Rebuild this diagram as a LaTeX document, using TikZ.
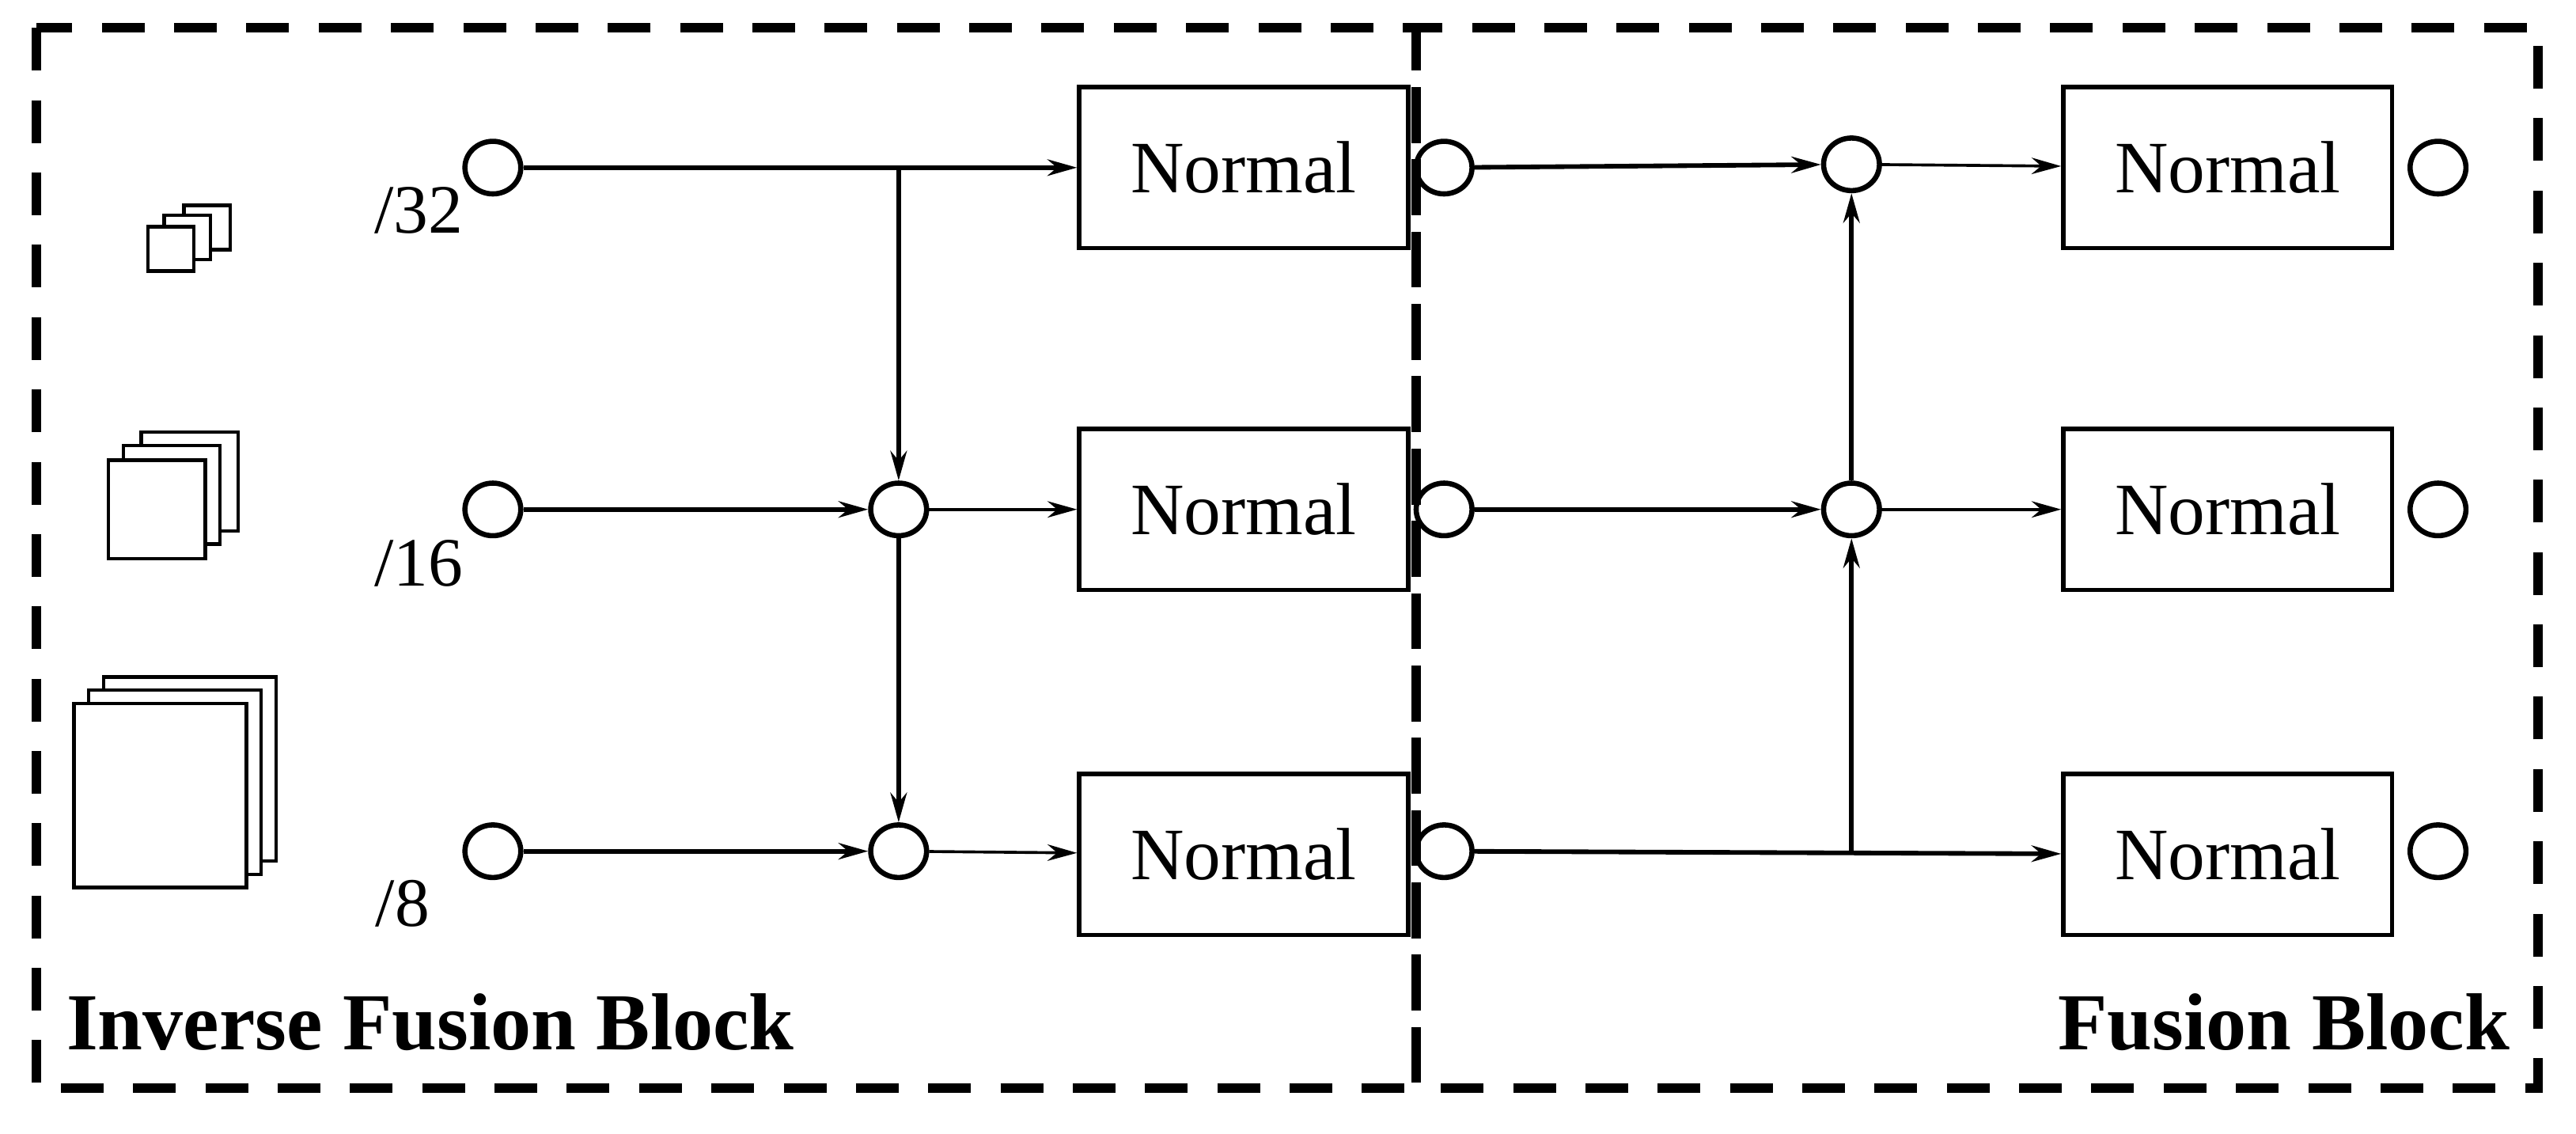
\documentclass[tikz,border=0pt]{standalone}
\usepackage{fontspec}
\setmainfont{Liberation Serif}
\usetikzlibrary{shapes.geometric, arrows.meta}

\begin{document}
\begin{tikzpicture}[x=0.5mm, y=-0.5mm]
        \tikzstyle{port} = [draw, ellipse, line width=4.5pt, minimum width=17mm, minimum height=16mm, inner sep=0pt]
        \tikzstyle{block} = [draw, line width=4pt, minimum width=100mm, minimum height=49mm, font=\fontsize{64}{70}\selectfont]
        \tikzstyle{feat} = [draw, line width=3pt, fill=white]
        \tikzstyle{tight} = [-{Stealth[length=9mm, width=5mm]}, line width=4pt]
        \tikzstyle{untight} = [-{Stealth[length=9mm, width=5mm]}, line width=2.5pt]
        \tikzstyle{frame} = [line width=8pt, dash pattern=on 13mm off 9mm]
        \tikzstyle{ratio} = [font=\fontsize{60}{66}\selectfont]
        \tikzstyle{title} = [font=\bfseries\fontsize{70}{76}\selectfont, anchor=west]
        \useasboundingbox (0,0) rectangle (1568,690);
        % frames
        \draw[frame] (22,17) rectangle (862,662);
        \draw[frame] (862,17) rectangle (1545,662);
        \node[title] (TI) at (38,622) {Inverse Fusion Block};
        \node[title, anchor=east] (TF) at (1530,622) {Fusion Block};
        % feature stacks
        \foreach \dx/\dy in {22/-13,10/-7,0/0} \draw[feat] (90+\dx,138+\dy) rectangle (118+\dx,165+\dy);
        \foreach \dx/\dy in {20/-17,9/-9,0/0} \draw[feat] (66+\dx,280+\dy) rectangle (125+\dx,340+\dy);
        \foreach \dx/\dy in {18/-16,9/-8,0/0} \draw[feat] (45+\dx,428+\dy) rectangle (150+\dx,540+\dy);
        % inputs
        \node[port] (I1) at (300,102) {};
        \node[port] (I2) at (300,310) {};
        \node[port] (I3) at (300,518) {};
        \node[ratio] (S1) at (255,128) {/32};
        \node[ratio] (S2) at (255,343) {/16};
        \node[ratio] (S3) at (245,550) {/8};
        \node[port] (M2) at (547,310) {};
        \node[port] (M3) at (547,518) {};
        \coordinate (J1) at (547,102);
        \node[block] (N1) at (757,102) {Normal};
        \node[block] (N2) at (757,310) {Normal};
        \node[block] (N3) at (757,520) {Normal};
        \node[port] (O1) at (879,102) {};
        \node[port] (O2) at (879,310) {};
        \node[port] (O3) at (879,518) {};
        \node[port] (F1) at (1127,100) {};
        \node[port] (F2) at (1127,310) {};
        \coordinate (K3) at (1127,518);
        \node[block] (R1) at (1356,102) {Normal};
        \node[block] (R2) at (1356,310) {Normal};
        \node[block] (R3) at (1356,520) {Normal};
        \node[port] (P1) at (1484,102) {};
        \node[port] (P2) at (1484,310) {};
        \node[port] (P3) at (1484,518) {};
        \path[tight]
        (I1) edge (N1)
        (I2) edge (M2)
        (I3) edge (M3)
        (J1) edge (M2)
        (M2) edge (M3)
        (O1) edge (F1)
        (O2) edge (F2)
        (F2) edge (F1)
        (K3) edge (F2)
        (O3) edge (R3);
        \path[untight]
        (M2) edge (N2)
        (M3) edge (N3)
        (F1) edge (R1)
        (F2) edge (R2);
    \end{tikzpicture}
\end{document}
